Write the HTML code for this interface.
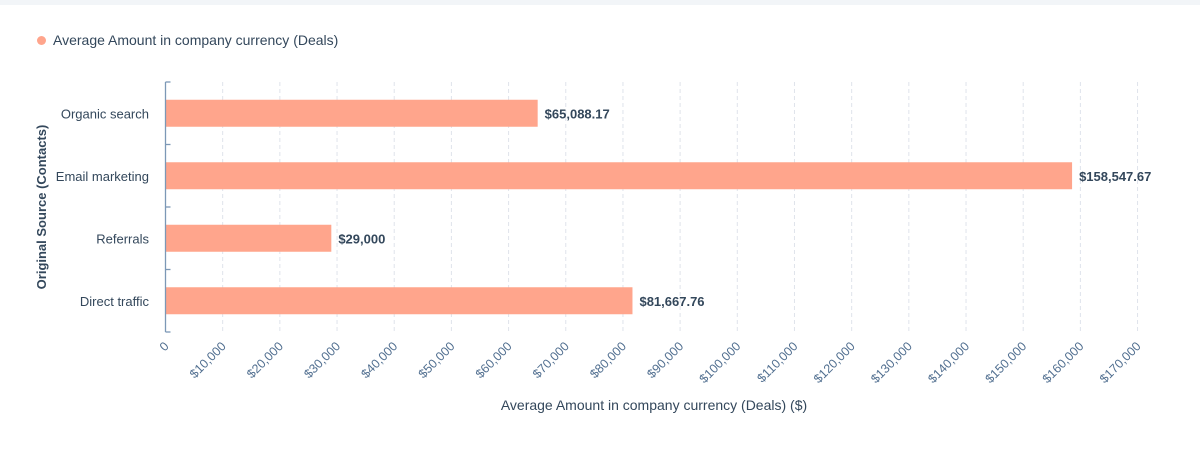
<!DOCTYPE html>
<html><head><meta charset="utf-8"><style>
body{margin:0;background:#fff;font-family:"Liberation Sans",sans-serif;}
svg text{font-family:"Liberation Sans",sans-serif;}
</style></head><body>
<svg width="1200" height="454">
<rect x="0" y="0" width="1200" height="5" fill="#f2f5f8"/>
<g>
<circle cx="41.5" cy="40.5" r="4.5" fill="#ffa58c"/>
<text x="53" y="45" font-size="14" fill="#33475b">Average Amount in company currency (Deals)</text>
</g>
<g id="grid"></g><g id="bars"></g><g id="axes"></g>
<text transform="translate(46,207) rotate(-90)" text-anchor="middle" font-size="13" font-weight="bold" fill="#33475b">Original Source (Contacts)</text>
<text x="654" y="410" text-anchor="middle" font-size="14" fill="#33475b">Average Amount in company currency (Deals) ($)</text>
</svg>
<script>
const categories=["Organic search","Email marketing","Referrals","Direct traffic"];
const values=[65088.17,158547.67,29000,81667.76];
const valueLabels=["$65,088.17","$158,547.67","$29,000","$81,667.76"];
const ticks=[0,10000,20000,30000,40000,50000,60000,70000,80000,90000,100000,110000,120000,130000,140000,150000,160000,170000];
const tickLabels=["0","$10,000","$20,000","$30,000","$40,000","$50,000","$60,000","$70,000","$80,000","$90,000","$100,000","$110,000","$120,000","$130,000","$140,000","$150,000","$160,000","$170,000"];
const NS="http://www.w3.org/2000/svg";
const x0=165.5,scale=57.18/10000,yTop=82,yBot=332;
const band=(yBot-yTop)/categories.length;
const X=v=>x0+v*scale;
const Y=i=>yTop+band*i+band/2;
function mk(t,a,p){const e=document.createElementNS(NS,t);for(const k in a)e.setAttribute(k,a[k]);p.appendChild(e);return e;}
const grid=document.getElementById('grid'),bars=document.getElementById('bars'),axes=document.getElementById('axes');
ticks.forEach((t,i)=>{
 if(i>0){const l=mk('line',{x1:X(t),x2:X(t),y1:yTop,y2:yBot,stroke:'#dfe3eb','stroke-dasharray':'4,3'},grid);
 
 }
 const tx=mk('text',{x:0,y:0,'font-size':'12.5',fill:'#516f90','text-anchor':'end',transform:`translate(${X(t)+4},${347}) rotate(-45)`},axes);
 tx.textContent=tickLabels[i];
 
 
});
categories.forEach((c,i)=>{
 const r=mk('rect',{x:x0,y:Y(i)-13.5,width:X(values[i])-x0,height:27,fill:'#ffa58c'},bars);
 
 
 const v=mk('text',{x:X(values[i])+7,y:Y(i)+5,'font-size':'13','font-weight':'bold',fill:'#33475b'},bars);
 v.textContent=valueLabels[i];
 
 
 const lb=mk('text',{x:149,y:Y(i)+5,'font-size':'13',fill:'#33475b','text-anchor':'end'},axes);
 lb.textContent=c;
 
 
});
const ax=mk('line',{x1:x0,x2:x0,y1:yTop,y2:yBot,stroke:'#7c98b6','stroke-width':'1.3'},axes);


for(let i=0;i<=categories.length;i++){
 const t=mk('line',{x1:x0,x2:x0+5,y1:yTop+band*i,y2:yTop+band*i,stroke:'#7c98b6','stroke-width':'1.3'},axes);
 
 
}
</script>
</body></html>
